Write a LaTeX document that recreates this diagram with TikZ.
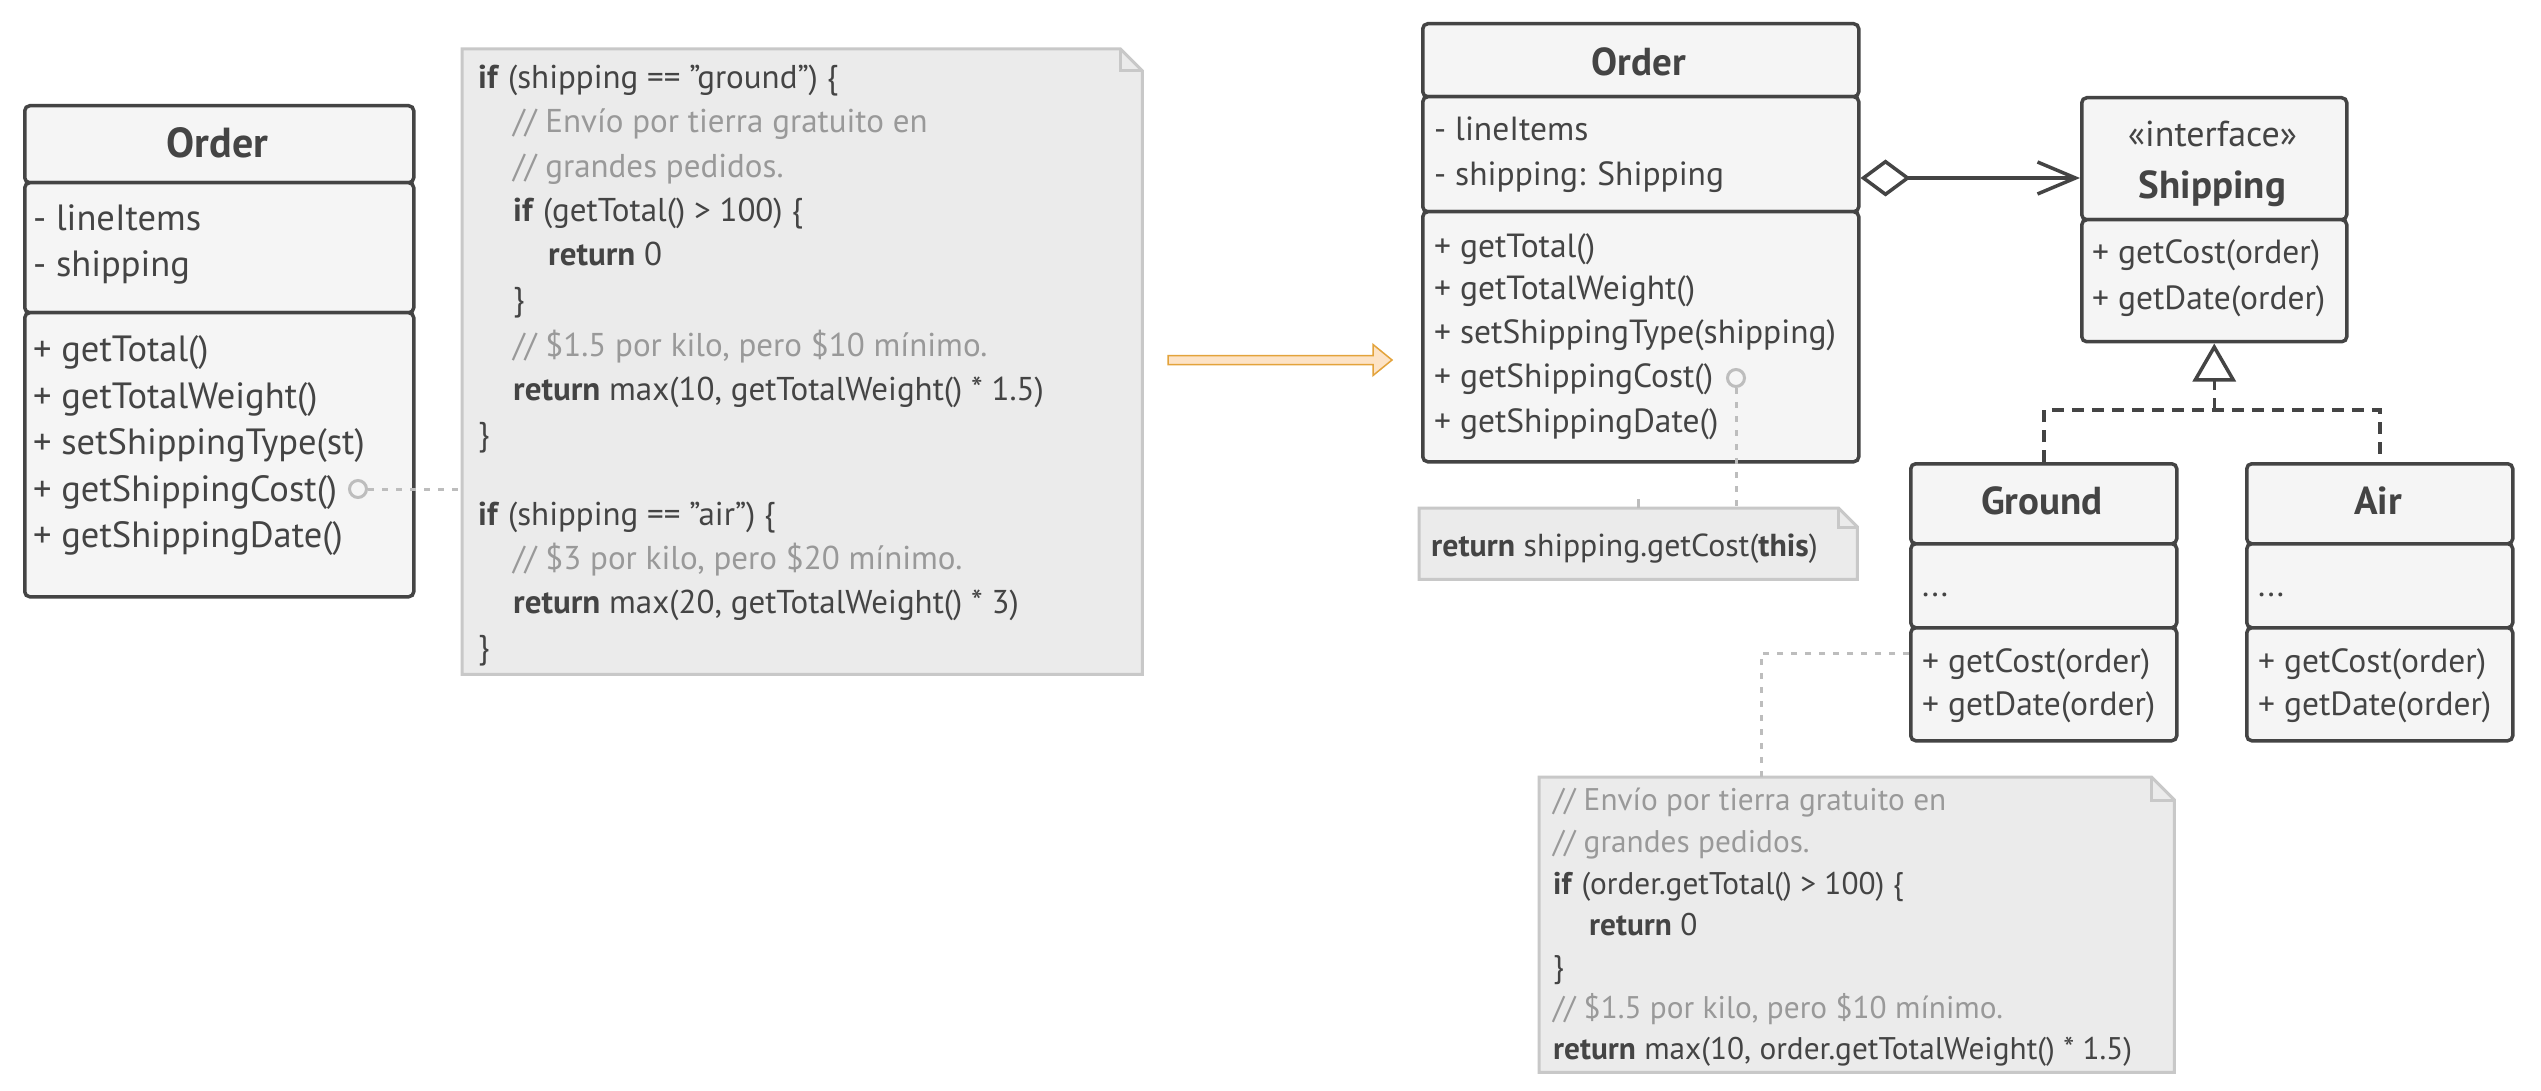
\documentclass[tikz,border=0pt]{standalone}
\usepackage{fontspec}
\setmainfont{PT Sans}
\usetikzlibrary{arrows.meta,calc}
\definecolor{ink}{HTML}{444444}
\definecolor{boxfill}{HTML}{F5F5F5}
\definecolor{notefill}{HTML}{EBEBEB}
\definecolor{noteline}{HTML}{C8C8C8}
\definecolor{cmt}{HTML}{999999}
\definecolor{dotc}{HTML}{BDBDBD}
\definecolor{orfill}{HTML}{FDE3C6}
\definecolor{orline}{HTML}{E3A33B}
\newcommand{\fsA}{\fontsize{36.5}{42}\selectfont}
\newcommand{\fsAt}{\fontsize{42}{48}\selectfont\bfseries}
\newcommand{\fsN}{\fontsize{33}{38}\selectfont}
\newcommand{\fsNb}{\fontsize{31.8}{38}\selectfont}
\newcommand{\fsR}{\fontsize{33.5}{40}\selectfont}
\newcommand{\fsRt}{\fontsize{39}{45}\selectfont\bfseries}
\newcommand{\fsM}{\fontsize{31.3}{37}\selectfont}
\newcommand{\cm}[1]{{\color{cmt}#1}}
\newcommand{\drawnote}[2]{%
  \draw[notestyle] (#1.north west) -- ($(#1.north east)+(-#2,0)$) -- ($(#1.north east)+(0,#2)$) -- (#1.south east) -- (#1.south west) -- cycle;
  \draw[notestyle, fill=none] ($(#1.north east)+(-#2,0)$) -- ($(#1.north east)+(-#2,#2)$) -- ($(#1.north east)+(0,#2)$);}
\tikzset{
  comp/.style={draw=ink, fill=boxfill, line width=3.5pt, rounded corners=5pt, anchor=north west, inner sep=0pt},
  txt/.style={anchor=base west, inner sep=0pt, text=ink},
  ttl/.style={anchor=base, inner sep=0pt, text=ink},
  notebox/.style={anchor=north west, inner sep=0pt},
  notestyle/.style={draw=noteline, fill=notefill, line width=3pt, line join=miter},
  dotline/.style={draw=dotc, line width=3pt, dash pattern=on 6pt off 8pt},
  hook/.style={circle, draw=dotc, line width=3pt, minimum size=17pt, inner sep=0pt, fill=boxfill},
  agg/.style={draw=ink, line width=3.5pt, {Diamond[open, length=50pt, width=37pt, line width=3.5pt]}-{Straight Barb[length=38pt, width=32pt, line width=3.5pt]}},
  realdash/.style={draw=ink, line width=3.5pt, dash pattern=on 12pt off 8pt},
  realtip/.style={draw=ink, line width=3.5pt, -{Triangle[open, length=38pt, width=43pt, line width=3.5pt]}}
}
\begin{document}
\begin{tikzpicture}[x=1pt, y=-1pt]
\useasboundingbox (0,0) rectangle (2541,1091);
\fill[white] (0,0) rectangle (2541,1091);

% ---------- notes ----------
\node[notebox, minimum width=680pt, minimum height=625pt] (n1) at (462,49) {};
\drawnote{n1}{22}
\node[notebox, minimum width=438pt, minimum height=71pt] (n2) at (1419,508) {};
\drawnote{n2}{19}
\node[notebox, minimum width=635pt, minimum height=295pt] (n3) at (1539,777) {};
\drawnote{n3}{23}

% note 1 text
\node[txt, font=\fsN] (n1l1) at (478,89) {\textbf{if} (shipping == "ground") \{};
\node[txt, font=\fsN] (n1l2) at (513,133) {\cm{// Envío por tierra gratuito en}};
\node[txt, font=\fsN] (n1l3) at (513,178) {\cm{// grandes pedidos.}};
\node[txt, font=\fsN] (n1l4) at (513,222) {\textbf{if} (getTotal() > 100) \{};
\node[txt, font=\fsN] (n1l5) at (548,266) {\textbf{return} 0};
\node[txt, font=\fsN] (n1l6) at (513,311) {\}};
\node[txt, font=\fsN] (n1l7) at (513,356) {\cm{// \$1.5 por kilo, pero \$10 mínimo.}};
\node[txt, font=\fsN] (n1l8) at (513,400) {\textbf{return} max(10, getTotalWeight() * 1.5)};
\node[txt, font=\fsN] (n1l9) at (478,445) {\}};
\node[txt, font=\fsN] (n1l10) at (478,525) {\textbf{if} (shipping == "air") \{};
\node[txt, font=\fsN] (n1l11) at (513,569) {\cm{// \$3 por kilo, pero \$20 mínimo.}};
\node[txt, font=\fsN] (n1l12) at (513,613) {\textbf{return} max(20, getTotalWeight() * 3)};
\node[txt, font=\fsN] (n1l13) at (478,658) {\}};

% note 2 text
\node[txt, font=\fsNb] (n2l1) at (1431,556) {\textbf{return} shipping.getCost(\textbf{this})};

% note 3 text
\node[txt, font=\fsM] (n3l1) at (1553,810) {\cm{// Envío por tierra gratuito en}};
\node[txt, font=\fsM] (n3l2) at (1553,852) {\cm{// grandes pedidos.}};
\node[txt, font=\fsM] (n3l3) at (1553,894) {\textbf{if} (order.getTotal() > 100) \{};
\node[txt, font=\fsM] (n3l4) at (1589,935) {\textbf{return} 0};
\node[txt, font=\fsM] (n3l5) at (1553,977) {\}};
\node[txt, font=\fsM] (n3l6) at (1553,1018) {\cm{// \$1.5 por kilo, pero \$10 mínimo.}};
\node[txt, font=\fsM] (n3l7) at (1553,1059) {\textbf{return} max(10, order.getTotalWeight() * 1.5)};

% ---------- left Order ----------
\node[comp, minimum width=389pt, minimum height=77pt] (lo1) at (23,104) {};
\node[comp, minimum width=389pt, minimum height=130pt] (lo2) at (23,181) {};
\node[comp, minimum width=389pt, minimum height=284pt] (lo3) at (23,311) {};
\node[ttl, font=\fsAt] (lot) at (217.5,158) {Order};
\node[txt, font=\fsA] (lof1) at (33,231) {- lineItems};
\node[txt, font=\fsA] (lof2) at (33,277) {- shipping};
\node[txt, font=\fsA] (lom1) at (33,362) {+ getTotal()};
\node[txt, font=\fsA] (lom2) at (33,408) {+ getTotalWeight()};
\node[txt, font=\fsA] (lom3) at (33,454) {+ setShippingType(st)};
\node[txt, font=\fsA] (lom4) at (33,501) {+ getShippingCost()};
\node[txt, font=\fsA] (lom5) at (33,547) {+ getShippingDate()};
\node[hook] (c1) at (358,489) {};
\draw[dotline] (c1.east) -- (n1.west |- c1.east);

% ---------- orange arrow ----------
\draw[draw=orline, fill=orfill, line width=1.5pt, line join=miter]
  (1168,355.5) -- (1373,355.5) -- (1373,344.5) -- (1392,360) -- (1373,375.5) -- (1373,364.5) -- (1168,364.5) -- cycle;

% ---------- right Order ----------
\node[comp, minimum width=436pt, minimum height=73pt] (ro1) at (1421,22) {};
\node[comp, minimum width=436pt, minimum height=115pt] (ro2) at (1421,95) {};
\node[comp, minimum width=436pt, minimum height=250pt] (ro3) at (1421,210) {};
\node[ttl, font=\fsRt] (rot) at (1639,76) {Order};
\node[txt, font=\fsR] (rof1) at (1434,141) {- lineItems};
\node[txt, font=\fsR] (rof2) at (1434,186) {- shipping: Shipping};
\node[txt, font=\fsR] (rom1) at (1434,258) {+ getTotal()};
\node[txt, font=\fsR] (rom2) at (1434,300) {+ getTotalWeight()};
\node[txt, font=\fsR] (rom3) at (1434,343) {+ setShippingType(shipping)};
\node[txt, font=\fsR] (rom4) at (1434,387) {+ getShippingCost()};
\node[txt, font=\fsR] (rom5) at (1434,432) {+ getShippingDate()};
\node[hook] (c2) at (1736,378) {};
\draw[dotline] (c2.south) -- (c2.south |- n2.north);
\draw[dotline, dash pattern=on 9pt off 0pt] ($(n2.north)+(0,-9)$) -- (n2.north);

% ---------- Shipping ----------
\node[comp, minimum width=265pt, minimum height=122pt] (sh1) at (2080,96) {};
\node[comp, minimum width=265pt, minimum height=122pt] (sh2) at (2080,218) {};
\node[ttl, font=\fontsize{36}{42}\selectfont] (shs) at (2212.5,147) {«interface»};
\node[ttl, font=\fsRt] (sht) at (2212.5,199) {Shipping};
\node[txt, font=\fsR] (shm1) at (2092,264) {+ getCost(order)};
\node[txt, font=\fsR] (shm2) at (2092,310) {+ getDate(order)};

\coordinate (aggy) at (0,178);
\draw[agg] (ro2.east |- aggy) -- (sh1.west |- aggy);

% ---------- Ground / Air ----------
\node[comp, minimum width=266pt, minimum height=80pt] (g1) at (1909,462) {};
\node[comp, minimum width=266pt, minimum height=84pt] (g2) at (1909,542) {};
\node[comp, minimum width=266pt, minimum height=113pt] (g3) at (1909,626) {};
\node[ttl, font=\fsRt] (gt) at (2042,514) {Ground};
\node[txt, font=\fsR] (gf) at (1922,596) {...};
\node[txt, font=\fsR] (gm1) at (1922,672) {+ getCost(order)};
\node[txt, font=\fsR] (gm2) at (1922,715) {+ getDate(order)};

\node[comp, minimum width=266pt, minimum height=80pt] (a1) at (2245,462) {};
\node[comp, minimum width=266pt, minimum height=84pt] (a2) at (2245,542) {};
\node[comp, minimum width=266pt, minimum height=113pt] (a3) at (2245,626) {};
\node[ttl, font=\fsRt] (at) at (2378,514) {Air};
\node[txt, font=\fsR] (af) at (2258,596) {...};
\node[txt, font=\fsR] (am1) at (2258,672) {+ getCost(order)};
\node[txt, font=\fsR] (am2) at (2258,715) {+ getDate(order)};

% realization
\coordinate (hy) at (0,410);
\coordinate (ty) at (0,381);
\draw[realdash] (g1.north) |- (sh2.south |- hy) -| (a1.north);
\draw[realdash] (sh2.south |- hy) -- (sh2.south |- ty);
\draw[realtip] (sh2.south |- ty) -- (sh2.south);

% ground note connector
\coordinate (gy) at (0,653);
\coordinate (nx) at (1761,0);
\draw[dotline] (g3.west |- gy) -| (n3.north -| nx);
\end{tikzpicture}
\end{document}
